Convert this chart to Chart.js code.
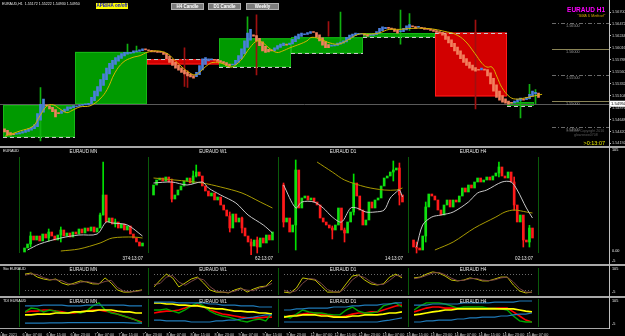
<!DOCTYPE html>
<html>
<head>
<meta charset="utf-8">
<script src="https://cdn.jsdelivr.net/npm/chart.js@4.4.1/dist/chart.umd.min.js"></script>
<style>
  html, body { margin: 0; padding: 0; background: #000; }
  #wrap { position: relative; width: 625px; height: 336px; overflow: hidden; background: #000;
          font-family: "Liberation Sans", Arial, sans-serif; }
  #wrap canvas { position: absolute; z-index: 1; }
  .t { position: absolute; white-space: nowrap; color: #e8e8e8; font-size: 5px; line-height: 1; z-index: 3; }
  .ln { position: absolute; z-index: 2; }
  .btn { position: absolute; z-index: 3; background: #7c7c7c; border: 1px solid #b0b0b0; color: #fff;
         font-size: 4.5px; font-weight: bold; text-align: center; line-height: 5px; height: 5px; }
</style>
</head>
<body>
<div id="wrap">
  <!-- pane separators -->
  <div class="ln" style="left:0;top:146px;width:625px;height:2px;background:#a8a8a8"></div>
  <div class="ln" style="left:0;top:264px;width:625px;height:2px;background:#a8a8a8"></div>
  <div class="ln" style="left:0;top:296px;width:625px;height:2px;background:#a8a8a8"></div>
  <div class="ln" style="left:0;top:328px;width:610px;height:1px;background:#a8a8a8"></div>
  <div class="ln" style="left:609px;top:0;width:1px;height:329px;background:#c0c0c0"></div>

  <!-- main pane texts -->
  <div class="t" style="left:2px;top:3px;font-size:3.6px">EURAUD,H1 &nbsp;1.55172 1.55222 1.54930 1.54950</div>
  <div class="t" style="left:96px;top:3px;width:32px;height:6px;background:#ffff00;color:#1010d0;font-weight:bold;font-size:4.5px;line-height:6px;text-align:center">APB/HA on/off</div>
  <div class="btn" style="left:171px;top:3px;width:31px">H4 Candle</div>
  <div class="btn" style="left:208px;top:3px;width:31px">D1 Candle</div>
  <div class="btn" style="left:246px;top:3px;width:31px">Weekly</div>
  <div class="t" style="right:20px;top:7px;color:#ff00ff;font-weight:bold;font-size:6.5px">EURAUD H1</div>
  <div class="t" style="right:20px;top:15px;color:#d8a800;font-style:italic;font-size:3.8px">"SMA 5 Method"</div>
  <div class="t" style="left:566px;top:129px;color:#5a5a5a;font-size:3.6px;line-height:4px">1.54500&nbsp;Copyright 2016<br>&nbsp;&nbsp;&nbsp;&nbsp;&nbsp;&nbsp;&nbsp;&nbsp;glowsnow0708</div>
  <div class="t" style="right:20px;top:141px;color:#e8e800;font-size:5.5px">&gt;0:13:07</div>

  <!-- pane 2 texts -->
  <div class="t" style="left:3px;top:150px;font-size:3.8px">EURAUD</div>
  <div class="t" style="left:612px;top:149px;font-size:3.8px">105</div>
  <div class="t" style="left:612px;top:250px;font-size:3.8px">0.00</div>
  <div class="t" style="left:612px;top:260px;font-size:3.8px">-5</div>

  <!-- pane 3 texts -->
  <div class="t" style="left:3px;top:268px;font-size:3.8px">Sto EURAUD</div>
  <div class="t" style="left:612px;top:268px;font-size:3.8px">105</div>
  <div class="t" style="left:612px;top:291px;font-size:3.8px">-5</div>

  <!-- pane 4 texts -->
  <div class="t" style="left:3px;top:300px;font-size:3.8px">TDI EURAUD</div>
  <div class="t" style="left:612px;top:300px;font-size:3.8px">105</div>
  <div class="t" style="left:612px;top:323px;font-size:3.8px">-5</div>
</div>

<script>
// ---------- main H1 pane ----------
const priceTicks = [1.56700, 1.56472, 1.56244, 1.56016, 1.55788, 1.55560, 1.55332, 1.55104, 1.54876, 1.54648, 1.54420, 1.54192];
const bidPrice = 1.54950;

// Heiken Ashi closes, one per H1 bar
const haOpen0 = 1.5447;
const haClose = [
  1.5441, 1.5436,
  1.5435, 1.5436, 1.5438, 1.5440, 1.5442, 1.5444, 1.5447, 1.5450, 1.5455,
  1.5476, 1.5494, 1.5504,
  1.5491, 1.5485, 1.5480, 1.5470, 1.5476,
  1.5482, 1.5485, 1.5489, 1.5489, 1.5491,
  1.5491, 1.5493, 1.5494, 1.5493, 1.5496,
  1.5507, 1.5519, 1.5528,
  1.5541, 1.5552, 1.5563, 1.5572, 1.5578,
  1.5583, 1.5587, 1.5591, 1.5593, 1.5593,
  1.5593, 1.5596, 1.5596, 1.5598, 1.5600, 1.5598,
  1.5596, 1.5594, 1.5594, 1.5593, 1.5593, 1.5589,
  1.5581, 1.5574, 1.5568, 1.5563, 1.5559,
  1.5555, 1.5552, 1.5548, 1.5546, 1.5544,
  1.5555, 1.5568, 1.5581, 1.5583,
  1.5581, 1.5580, 1.5578, 1.5576, 1.5574,
  1.5572, 1.5568, 1.5567, 1.5570, 1.5578,
  1.5587, 1.5600, 1.5615, 1.5630, 1.5637,
  1.5624, 1.5615, 1.5606, 1.5596, 1.5593,
  1.5594, 1.5596, 1.5602, 1.5606, 1.5609,
  1.5611, 1.5607, 1.5611, 1.5618, 1.5624,
  1.5628, 1.5630, 1.5628, 1.5631, 1.5633, 1.5631,
  1.5622, 1.5615, 1.5607, 1.5602, 1.5602,
  1.5606, 1.5607, 1.5611, 1.5613, 1.5615,
  1.5622, 1.5626, 1.5628, 1.5630, 1.5628,
  1.5628, 1.5626, 1.5624, 1.5626, 1.5628,
  1.5633, 1.5639, 1.5642, 1.5641, 1.5639,
  1.5637, 1.5633, 1.5630, 1.5633, 1.5639,
  1.5644, 1.5646, 1.5642, 1.5639, 1.5641,
  1.5639, 1.5637, 1.5637, 1.5635, 1.5633, 1.5631,
  1.5630, 1.5626, 1.5618, 1.5611, 1.5604,
  1.5596, 1.5589, 1.5581, 1.5574, 1.5568, 1.5563,
  1.5559, 1.5557, 1.5559, 1.5563,
  1.5559, 1.5548, 1.5533, 1.5519, 1.5507,
  1.5502, 1.5498, 1.5496, 1.5494, 1.5496,
  1.5500, 1.5504, 1.5506, 1.5502, 1.5507,
  1.5513, 1.5519, 1.5517, 1.5507
];

// real candle wicks that stick out: [bar, high, low]
const h1Wicks = [
  [12, 1.5526, 1.5424], [41, 1.5609, 1.5591], [44, 1.5605, 1.5593], [60, 1.5602, 1.5528],
  [61, 1.5559, 1.5526], [81, 1.5661, 1.5620], [84, 1.5665, 1.5550], [108, 1.5652, 1.5624],
  [112, 1.5670, 1.5615], [132, 1.5674, 1.5609], [135, 1.5667, 1.5635], [157, 1.5655, 1.5485],
  [172, 1.5504, 1.5468], [175, 1.5532, 1.5504], [177, 1.5522, 1.5495]
];

// SMA line: [bar, price]
const smaLine = [
  [0.2, 1.5433], [5.2, 1.5443], [9.5, 1.5452], [11.8, 1.5472], [14.2, 1.5491], [16.2, 1.5493],
  [18.5, 1.5485], [20.8, 1.5478], [22.5, 1.5482], [25.2, 1.5489], [28.5, 1.5491], [31.8, 1.5504],
  [34.2, 1.5522], [36.8, 1.5554], [39.5, 1.5574], [42.5, 1.5583], [45.2, 1.5587], [47.5, 1.5593],
  [50.8, 1.5596], [54.2, 1.5591], [56.2, 1.5581], [59.2, 1.5565], [61.2, 1.5556], [63.5, 1.5550],
  [65.2, 1.5556], [67.5, 1.5568], [69.5, 1.5574], [72.5, 1.5572], [75.2, 1.5565], [76.8, 1.5568],
  [79.2, 1.5581], [81.8, 1.5602], [84.2, 1.5615], [86.2, 1.5611], [88.5, 1.5600], [90.8, 1.5593],
  [92.8, 1.5596], [95.2, 1.5602], [98.5, 1.5609], [100.8, 1.5615], [102.5, 1.5622], [105.8, 1.5617],
  [108.5, 1.5611], [111.5, 1.5609], [114.8, 1.5618], [118.2, 1.5628], [121.5, 1.5628], [124.8, 1.5630],
  [128.2, 1.5637], [131.5, 1.5637], [135.8, 1.5639], [140.2, 1.5639], [143.5, 1.5637], [146.8, 1.5633],
  [150.2, 1.5628], [153.5, 1.5615], [156.8, 1.5591], [159.2, 1.5572], [160.8, 1.5565], [162.5, 1.5565],
  [164.2, 1.5546], [165.8, 1.5526], [168.2, 1.5509], [170.2, 1.5504], [173.5, 1.5506], [175.8, 1.5509],
  [179.2, 1.5513]
];

// daily boxes: [firstBar, lastBar, open, close]
const dayBoxes = [
  [0, 23, 1.5431, 1.5493], [24, 47, 1.5494, 1.5594], [48, 71, 1.5580, 1.5570],
  [72, 95, 1.5565, 1.5620], [96, 119, 1.5591, 1.5622], [120, 143, 1.5622, 1.5630],
  [144, 167, 1.5631, 1.5509], [168, 176, 1.5491, 1.5498]
];

// round-number levels at the right: [price, solid?]
const levelPrices = [1.5650, 1.5600, 1.5550, 1.5500, 1.5450];
const levelSolid = [false, true, false, true, false];
const levelFromBar = 182.5;

// ---------- pane 2 : multi time frame candles ----------
const mnOpen0 = 1.515;
const mnClose = [1.527, 1.539, 1.563, 1.551, 1.563, 1.548, 1.569, 1.557, 1.575, 1.563, 1.551, 1.566, 1.581, 1.563, 1.572, 1.560, 1.575, 1.569, 1.584, 1.572,
                 1.587, 1.578, 1.590, 1.575, 1.587, 1.626, 1.686, 1.605, 1.617, 1.599, 1.605, 1.587, 1.599, 1.581, 1.593, 1.569, 1.557, 1.545, 1.533, 1.542];
const mnGray = [[1, 1.521], [5, 1.539], [12, 1.557], [18, 1.566], [24, 1.569], [27, 1.605], [29, 1.602], [34, 1.596], [39, 1.563]];
const mnOlive = [[12, 1.518], [18, 1.524], [25, 1.542], [29, 1.557], [36, 1.560], [39, 1.557]];
const mnWicks = [[26, 1.785, 1.626], [25, 1.632, 1.600], [2, 1.575, 1.530], [12, 1.590, 1.545], [8, 1.584, 1.548], [30, 1.614, 1.590]];

const w1Open0 = 1.582;
const w1Close = [1.592, 1.597, 1.599, 1.596, 1.600, 1.595, 1.578, 1.582, 1.587, 1.591, 1.596, 1.599, 1.594, 1.601, 1.605, 1.601, 1.591, 1.586, 1.581, 1.584,
                 1.577, 1.580, 1.572, 1.567, 1.561, 1.549, 1.563, 1.555, 1.559, 1.549, 1.541, 1.535, 1.531, 1.537, 1.530, 1.539, 1.534, 1.542, 1.537, 1.545];
const w1Gray = [[0, 1.594], [6, 1.595], [11, 1.592], [16, 1.595], [18, 1.589], [22, 1.582], [27, 1.574], [31, 1.562], [36, 1.552], [39, 1.544]];
const w1Olive = [[0, 1.599], [7, 1.597], [16, 1.594], [22, 1.590], [29, 1.584], [35, 1.575], [39, 1.569]];
const w1Wicks = [[14, 1.612, 1.600], [13, 1.606, 1.595], [6, 1.598, 1.575], [25, 1.565, 1.545], [34, 1.540, 1.524], [32, 1.538, 1.522], [29, 1.560, 1.544]];

const d1Open0 = 1.566;
const d1Close = [1.5475, 1.5495, 1.5425, 1.5460, 1.5735, 1.5545, 1.5595, 1.5605, 1.5585, 1.5595, 1.5575, 1.5560, 1.5495, 1.5475, 1.5460, 1.5445, 1.5435, 1.5460, 1.5545, 1.5435,
                 1.5420, 1.5475, 1.5525, 1.5670, 1.5605, 1.5535, 1.5460, 1.5485, 1.5575, 1.5545, 1.5585, 1.5595, 1.5655, 1.5695, 1.5705, 1.5725, 1.5735, 1.5745, 1.5610, 1.5575];
const d1Gray = [[0, 1.566], [4, 1.5545], [6, 1.5575], [10, 1.5575], [13, 1.5545], [16, 1.550], [19, 1.5475], [22, 1.5545], [24, 1.5545], [27, 1.5525],
                [30, 1.5525], [33, 1.5535], [35, 1.5595], [37, 1.5625], [38, 1.5635], [39, 1.560]];
const d1Olive = [[11, 1.5775], [16, 1.5725], [20, 1.5685], [27, 1.565], [33, 1.5635], [37, 1.5635], [39, 1.5645]];
const d1Wicks = [[4, 1.5785, 1.5335], [0, 1.567, 1.545], [23, 1.5715, 1.551], [38, 1.577, 1.556], [36, 1.578, 1.568], [20, 1.5445, 1.5375], [16, 1.5455, 1.539]];

const h4Open0 = 1.5501;
const h4Close = [1.5480, 1.5477, 1.5471, 1.5513, 1.5600, 1.5639, 1.5633, 1.5621, 1.5591, 1.5576, 1.5606, 1.5621, 1.5600, 1.5621, 1.5615, 1.5633, 1.5657, 1.5645, 1.5666, 1.5657,
                 1.5675, 1.5687, 1.5675, 1.5681, 1.5690, 1.5681, 1.5693, 1.5702, 1.5720, 1.5693, 1.5687, 1.5705, 1.5675, 1.5606, 1.5555, 1.5576, 1.5501, 1.5495, 1.5537, 1.5507];
const h4Gray = [[1, 1.548], [3, 1.5546], [6, 1.557], [9, 1.5576], [13, 1.5585], [18, 1.5615], [21, 1.5642], [24, 1.5651], [29, 1.5675], [32, 1.5675], [34, 1.5651], [37, 1.5597], [39, 1.5567]];
const h4Olive = [[7, 1.5471], [13, 1.5495], [20, 1.5537], [27, 1.557], [30, 1.5585], [33, 1.5591], [37, 1.5585], [39, 1.5582]];
const h4Wicks = [[4, 1.5615, 1.5495], [28, 1.5735, 1.5690], [33, 1.5690, 1.5590], [36, 1.5560, 1.5480], [38, 1.5545, 1.5480], [1, 1.5495, 1.5462]];

const countdowns = ['374:13:07', '62:13:07', '14:13:07', '02:13:07'];
const sectionNames = ['EURAUD MN', 'EURAUD W1', 'EURAUD D1', 'EURAUD H4'];

// ---------- pane 3 : stochastic ----------
const stoLevels = [80, 20];
const mnSto = [79, 83, 68, 61, 57, 61, 46, 39, 46, 54, 50, 43, 43, 65, 46, 21, 13, 13, 17, 21];
const mnStoSig = [75, 80, 77, 66, 59, 58, 55, 44, 41, 49, 52, 47, 44, 52, 56, 30, 17, 14, 15, 19];
const w1Sto = [32, 57, 79, 65, 32, 46, 61, 68, 46, 21, 13, 13, 10, 21, 28, 13, 24, 32, 35, 57];
const w1StoSig = [40, 45, 68, 74, 50, 38, 52, 64, 58, 33, 17, 13, 12, 16, 25, 20, 18, 28, 33, 45];
const d1Sto = [13, 10, 28, 65, 61, 57, 35, 13, 13, 13, 43, 72, 76, 57, 43, 39, 43, 68, 79, 65];
const d1StoSig = [20, 12, 18, 45, 63, 60, 45, 22, 14, 13, 30, 58, 74, 66, 50, 41, 41, 56, 74, 72];
const h4Sto = [65, 68, 79, 87, 83, 72, 57, 54, 57, 65, 61, 54, 54, 61, 68, 68, 39, 17, 10, 13];
const h4StoSig = [62, 66, 74, 83, 85, 77, 64, 55, 56, 62, 63, 57, 55, 58, 65, 68, 50, 26, 13, 12];

// ---------- pane 4 : TDI ----------
const mnTdiUp = [76, 76, 76, 79, 79, 79, 79, 76, 76, 76, 79, 79, 79, 79, 79, 79, 79, 76, 76, 76];
const mnTdiDn = [13, 13, 13, 13, 14, 14, 14, 15, 15, 15, 15, 15, 15, 15, 15, 15, 15, 14, 13, 13];
const mnTdiBase = [43, 43, 46, 46, 46, 50, 50, 50, 54, 54, 57, 57, 61, 61, 61, 57, 54, 54, 50, 50];
const mnTdiSig = [54, 57, 57, 61, 61, 57, 54, 50, 50, 54, 57, 61, 61, 57, 54, 46, 39, 32, 24, 17];
const mnTdiRsi = [54, 68, 65, 54, 61, 57, 50, 50, 54, 50, 57, 76, 87, 61, 50, 46, 39, 32, 24, 13];

const w1TdiUp = [90, 90, 90, 90, 87, 87, 87, 87, 87, 83, 83, 79, 79, 79, 76, 76, 76, 72, 72, 72];
const w1TdiDn = [24, 24, 21, 21, 21, 21, 17, 17, 17, 17, 21, 21, 24, 24, 28, 32, 35, 39, 43, 43];
const w1TdiBase = [87, 87, 83, 83, 79, 79, 76, 76, 72, 68, 65, 65, 61, 57, 57, 54, 54, 50, 50, 46];
const w1TdiSig = [50, 54, 57, 57, 61, 68, 76, 79, 72, 61, 54, 46, 43, 39, 35, 32, 32, 32, 35, 35];
const w1TdiRsi = [61, 61, 65, 57, 50, 61, 76, 87, 76, 57, 46, 39, 35, 28, 21, 17, 24, 28, 21, 50];

const d1TdiUp = [61, 61, 65, 65, 68, 68, 68, 68, 72, 72, 72, 76, 76, 79, 79, 79, 83, 83, 87, 87];
const d1TdiDn = [17, 17, 17, 17, 17, 17, 17, 17, 17, 17, 17, 17, 17, 17, 17, 17, 21, 24, 28, 32];
const d1TdiBase = [35, 39, 39, 43, 43, 43, 39, 39, 35, 35, 35, 39, 39, 43, 43, 43, 46, 50, 50, 54];
const d1TdiSig = [35, 39, 43, 46, 50, 50, 46, 43, 39, 35, 39, 46, 50, 50, 54, 54, 61, 68, 76, 79];
const d1TdiRsi = [39, 32, 46, 61, 54, 50, 50, 46, 43, 43, 61, 72, 57, 50, 50, 54, 76, 83, 87, 72];

const h4TdiUp = [79, 79, 79, 83, 83, 83, 83, 83, 87, 87, 87, 87, 87, 90, 90, 90, 90, 94, 94, 94];
const h4TdiDn = [17, 17, 21, 21, 24, 24, 24, 28, 28, 32, 32, 35, 35, 35, 39, 39, 43, 46, 46, 50];
const h4TdiBase = [43, 46, 50, 54, 57, 61, 61, 65, 65, 65, 65, 65, 65, 65, 65, 65, 65, 61, 57, 54];
const h4TdiSig = [54, 61, 68, 72, 72, 68, 68, 68, 68, 68, 68, 68, 68, 68, 68, 68, 54, 39, 24, 17];
const h4TdiRsi = [61, 76, 87, 87, 87, 83, 76, 68, 72, 72, 72, 72, 68, 68, 65, 61, 39, 21, 17, 17];

// ---------- time axis ----------
const timeLabels = ['5 Apr 2021', '6 Apr 07:00', '6 Apr 15:00', '6 Apr 23:00', '7 Apr 07:00', '7 Apr 15:00', '7 Apr 23:00',
  '8 Apr 07:00', '8 Apr 15:00', '8 Apr 23:00', '9 Apr 07:00', '9 Apr 15:00', '9 Apr 23:00', '12 Apr 07:00', '12 Apr 15:00',
  '12 Apr 23:00', '13 Apr 07:00', '13 Apr 15:00', '13 Apr 23:00', '14 Apr 07:00', '14 Apr 15:00', '14 Apr 23:00', '15 Apr 07:00'];
const timeLabelBars = timeLabels.map((_, k) => 8 * k - 1);

// =====================================================================
Chart.defaults.animation = false;
Chart.defaults.font.family = "'Liberation Sans', Arial, sans-serif";
Chart.defaults.plugins.legend.display = false;
Chart.defaults.plugins.tooltip.enabled = false;

const wrap = document.getElementById('wrap');
function mk(left, top, w, h) {
    const c = document.createElement('canvas');
    c.width = w; c.height = h;
    c.style.left = left + 'px';
    c.style.top = top + 'px';
    wrap.appendChild(c);
    return c;
}
function addText(txt, css) {
    const d = document.createElement('div');
    d.className = 't';
    d.textContent = txt;
    Object.assign(d.style, css);
    wrap.appendChild(d);
}
function addLine(css) {
    const d = document.createElement('div');
    d.className = 'ln';
    Object.assign(d.style, css);
    wrap.appendChild(d);
}

// ---- main chart ----
const haOpen = [];
haClose.forEach((c, i) => haOpen.push(i === 0 ? haOpen0 : (haOpen[i - 1] + haClose[i - 1]) / 2));

const mainDecor = {
    id: 'mainDecor',
    beforeDatasetsDraw(chart) {
        const { ctx, chartArea, scales: { x, y } } = chart;
        ctx.save();
        dayBoxes.forEach(b => {
            const x0 = x.getPixelForValue(b[0] - 0.5), x1 = x.getPixelForValue(b[1] + 0.5);
            const yo = y.getPixelForValue(b[2]), yc = y.getPixelForValue(b[3]);
            const up = b[3] >= b[2];
            ctx.fillStyle = up ? '#009a00' : '#d20000';
            ctx.fillRect(x0, Math.min(yo, yc), x1 - x0, Math.max(Math.abs(yc - yo), 1));
            ctx.strokeStyle = up ? '#16b816' : '#ff1a1a';
            ctx.lineWidth = 1;
            ctx.strokeRect(x0 + 0.5, Math.min(yo, yc) + 0.5, x1 - x0 - 1, Math.max(Math.abs(yc - yo) - 1, 0));
            // dashed open line
            ctx.strokeStyle = '#c8c8c8';
            ctx.setLineDash([4, 3]);
            ctx.beginPath();
            ctx.moveTo(x0, Math.round(yo) + 0.5);
            ctx.lineTo(x1, Math.round(yo) + 0.5);
            ctx.stroke();
            ctx.setLineDash([]);
        });
        // bid line
        const yb = Math.round(y.getPixelForValue(bidPrice)) + 0.5;
        ctx.strokeStyle = '#5a5a5a';
        ctx.beginPath();
        ctx.moveTo(chartArea.left, yb);
        ctx.lineTo(chartArea.right, yb);
        ctx.stroke();
        ctx.restore();
    },
    afterDatasetsDraw(chart) {
        const { ctx, chartArea, scales: { x, y } } = chart;
        ctx.save();
        const xs = x.getPixelForValue(levelFromBar);
        levelPrices.forEach((p, i) => {
            const yy = Math.round(y.getPixelForValue(p)) + 0.5;
            ctx.strokeStyle = levelSolid[i] ? '#8a8456' : '#6a6a6a';
            ctx.setLineDash(levelSolid[i] ? [] : [4, 2, 1, 2]);
            ctx.beginPath();
            ctx.moveTo(xs, yy);
            ctx.lineTo(chartArea.right, yy);
            ctx.stroke();
            ctx.setLineDash([]);
            ctx.fillStyle = '#9a9a9a';
            ctx.font = "3.8px 'Liberation Sans', Arial";
            ctx.textBaseline = 'top';
            ctx.fillText(p.toFixed(5), xs + 14, yy + 1);
        });
        ctx.restore();
    },
    afterDraw(chart) {
        const { ctx, chartArea, scales: { y } } = chart;
        const yb = y.getPixelForValue(bidPrice);
        ctx.save();
        ctx.fillStyle = '#ffffff';
        ctx.fillRect(chartArea.right + 1, yb - 3, 15, 6);
        ctx.fillStyle = '#000';
        ctx.font = "4.2px 'Liberation Sans', Arial";
        ctx.textBaseline = 'middle';
        ctx.fillText(bidPrice.toFixed(5), chartArea.right + 2, yb);
        ctx.restore();
    }
};

new Chart(mk(0, 0, 625, 147), {
    type: 'bar',
    data: {
        datasets: [
            {
                type: 'bar',
                data: h1Wicks.map(w => ({ x: w[0], y: [w[2], w[1]] })),
                backgroundColor: h1Wicks.map(w => haClose[w[0]] >= haOpen[w[0]] ? '#10b010' : '#a01010'),
                barThickness: 1, grouped: false, order: 3
            },
            {
                type: 'bar',
                data: haClose.map((c, i) => ({ x: i, y: [haOpen[i], c] })),
                backgroundColor: haClose.map((c, i) => c >= haOpen[i] ? '#4a7fdc' : '#f2805e'),
                barThickness: 2, grouped: false, minBarLength: 1, order: 2
            },
            {
                type: 'line',
                data: smaLine.map(p => ({ x: p[0], y: p[1] })),
                borderColor: '#d6b400', borderWidth: 1, pointRadius: 0, tension: 0.4, order: 1
            }
        ]
    },
    options: {
        responsive: false,
        layout: { padding: { top: 1, bottom: 1, left: 0, right: 0 } },
        scales: {
            x: { type: 'linear', min: -1.5, max: 201.5, offset: false, display: false },
            y: {
                position: 'right', min: 1.54186, max: 1.56869,
                afterFit(s) { s.width = 16; },
                afterBuildTicks(s) { s.ticks = priceTicks.map(v => ({ value: v })); },
                ticks: { color: '#d0d0d0', font: { size: 3.8 }, padding: 1, callback: v => Number(v).toFixed(5) },
                grid: { drawOnChartArea: false, color: '#c0c0c0', tickLength: 2 },
                border: { color: '#c0c0c0' }
            }
        }
    },
    plugins: [mainDecor]
});

// ---- section layout ----
const sepX = [19, 148, 278, 408, 538];

const candleSets = [
    { open0: mnOpen0, close: mnClose, gray: mnGray, olive: mnOlive, wicks: mnWicks, min: 1.506, max: 1.806 },
    { open0: w1Open0, close: w1Close, gray: w1Gray, olive: w1Olive, wicks: w1Wicks, min: 1.522, max: 1.622 },
    { open0: d1Open0, close: d1Close, gray: d1Gray, olive: d1Olive, wicks: d1Wicks, min: 1.531, max: 1.581 },
    { open0: h4Open0, close: h4Close, gray: h4Gray, olive: h4Olive, wicks: h4Wicks, min: 1.5456, max: 1.5756 }
];
const stoSets = [[mnSto, mnStoSig], [w1Sto, w1StoSig], [d1Sto, d1StoSig], [h4Sto, h4StoSig]];
const tdiSets = [
    [mnTdiUp, mnTdiDn, mnTdiBase, mnTdiSig, mnTdiRsi],
    [w1TdiUp, w1TdiDn, w1TdiBase, w1TdiSig, w1TdiRsi],
    [d1TdiUp, d1TdiDn, d1TdiBase, d1TdiSig, d1TdiRsi],
    [h4TdiUp, h4TdiDn, h4TdiBase, h4TdiSig, h4TdiRsi]
];

function levelPlugin(levels) {
    return {
        id: 'lv',
        beforeDatasetsDraw(chart) {
            const { ctx, chartArea, scales: { y } } = chart;
            ctx.save();
            ctx.strokeStyle = '#6a6a6a';
            ctx.setLineDash([1, 2]);
            levels.forEach(v => {
                const yy = Math.round(y.getPixelForValue(v)) + 0.5;
                ctx.beginPath();
                ctx.moveTo(chartArea.left, yy);
                ctx.lineTo(chartArea.right, yy);
                ctx.stroke();
            });
            ctx.restore();
        }
    };
}

function lineChart(canvas, series, levels) {
    const n = series[0].data.length;
    new Chart(canvas, {
        type: 'line',
        data: {
            datasets: series.map(s => ({
                data: s.data.map((v, i) => ({ x: i, y: v })),
                borderColor: s.color, borderWidth: s.width, pointRadius: 0, tension: 0
            }))
        },
        options: {
            responsive: false,
            layout: { padding: { left: 5, right: 6, top: 0, bottom: 0 } },
            scales: {
                x: { type: 'linear', min: 0, max: n - 1, display: false },
                y: { min: -5, max: 105, display: false }
            }
        },
        plugins: [levelPlugin(levels)]
    });
}

sepX.slice(0, 4).forEach((sx, k) => {
    const w = sepX[k + 1] - sx - 1;
    const cs = candleSets[k];
    const opens = cs.close.map((c, i) => i === 0 ? cs.open0 : cs.close[i - 1]);
    const n = cs.close.length;

    new Chart(mk(sx + 1, 155, w, 100), {
        type: 'bar',
        data: {
            datasets: [
                {
                    data: cs.wicks.map(wk => ({ x: wk[0], y: [wk[2], wk[1]] })),
                    backgroundColor: cs.wicks.map(wk => cs.close[wk[0]] >= opens[wk[0]] ? '#00e000' : '#ff1a1a'),
                    barThickness: 1, grouped: false, order: 4
                },
                {
                    data: cs.close.map((c, i) => ({ x: i, y: [opens[i], c] })),
                    backgroundColor: cs.close.map((c, i) => c >= opens[i] ? '#10e010' : '#ff1a1a'),
                    barThickness: 2, grouped: false, minBarLength: 1, order: 3
                },
                {
                    type: 'line', data: cs.olive.map(p => ({ x: p[0], y: p[1] })),
                    borderColor: '#a89a00', borderWidth: 1, pointRadius: 0, tension: 0.3, order: 2
                },
                {
                    type: 'line', data: cs.gray.map(p => ({ x: p[0], y: p[1] })),
                    borderColor: '#c8c8c8', borderWidth: 1, pointRadius: 0, tension: 0.3, order: 1
                }
            ]
        },
        options: {
            responsive: false,
            layout: { padding: { left: 3, right: 4, top: 0, bottom: 0 } },
            scales: {
                x: { type: 'linear', min: -0.5, max: n - 0.5, offset: false, display: false },
                y: { min: cs.min, max: cs.max, display: false }
            }
        }
    });

    const ss = stoSets[k];
    lineChart(mk(sx + 1, 267, w, 30), [
        { data: ss[1], color: '#7a4646', width: 1 },
        { data: ss[0], color: '#c4c400', width: 1 }
    ], stoLevels);

    const td = tdiSets[k];
    lineChart(mk(sx + 1, 298, w, 30), [
        { data: td[0], color: '#1f7ab8', width: 1.2 },
        { data: td[1], color: '#1f7ab8', width: 1.2 },
        { data: td[2], color: '#ffff00', width: 1.6 },
        { data: td[4], color: '#00a800', width: 1.4 },
        { data: td[3], color: '#ff0000', width: 1.6 }
    ], []);

    const cx = (sx + sepX[k + 1]) / 2;
    addText(sectionNames[k], { left: (cx - 20) + 'px', width: '40px', textAlign: 'center', top: '150px', fontSize: '4.6px' });
    addText(sectionNames[k], { left: (cx - 20) + 'px', width: '40px', textAlign: 'center', top: '268px', fontSize: '4.6px' });
    addText(sectionNames[k], { left: (cx - 20) + 'px', width: '40px', textAlign: 'center', top: '300px', fontSize: '4.6px' });
    addText(countdowns[k], { left: (sepX[k + 1] - 45) + 'px', width: '40px', textAlign: 'right', top: '257px', fontSize: '4.6px' });
});

// dark green section dividers
sepX.forEach(sx => {
    addLine({ left: sx + 'px', top: '157px', width: '1px', height: '96px', background: '#0a5a0a' });
    addLine({ left: sx + 'px', top: '268px', width: '1px', height: '27px', background: '#0a5a0a' });
    addLine({ left: sx + 'px', top: '299px', width: '1px', height: '28px', background: '#0a5a0a' });
});

// ---- time axis ----
new Chart(mk(0, 327, 625, 9), {
    type: 'line',
    data: { datasets: [{ data: [] }] },
    options: {
        responsive: false,
        layout: { padding: { left: 0, right: 16, top: 1, bottom: 0 } },
        scales: {
            x: {
                type: 'linear', min: -1.5, max: 201.5, position: 'bottom',
                afterBuildTicks(s) { s.ticks = timeLabelBars.map(v => ({ value: v })); },
                ticks: {
                    autoSkip: false, maxRotation: 0, align: 'start', labelOffset: -3, padding: 0,
                    color: '#d0d0d0', font: { size: 3.8 },
                    callback: (v, i) => timeLabels[i]
                },
                grid: { drawOnChartArea: false, color: '#a0a0a0', tickLength: 1 },
                border: { display: false }
            },
            y: { display: false }
        }
    }
});
</script>
</body>
</html>
